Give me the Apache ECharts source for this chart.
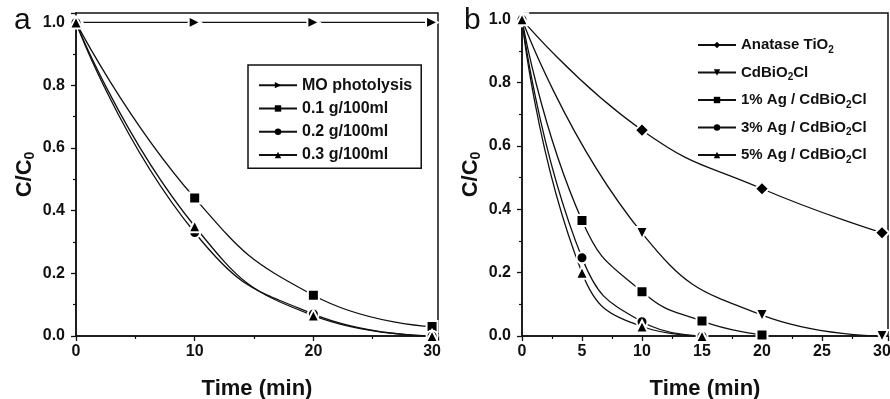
<!DOCTYPE html>
<html>
<head>
<meta charset="utf-8">
<script src="https://cdn.jsdelivr.net/npm/echarts@6/dist/echarts.min.js"></script>
<style>
  html, body { margin: 0; padding: 0; background: #fff; }
  #chart { width: 890px; height: 399px; }
</style>
</head>
<body>
<div id="chart"></div>
<script>
// panel a: catalyst dosage
const timesA = [0, 10, 20, 30];
const moPhotolysis = [1.0, 1.0, 1.0, 1.0];
const dose01 = [1.0, 0.44, 0.13, 0.03];
const dose02 = [1.0, 0.33, 0.07, 0.0];
const dose03 = [1.0, 0.35, 0.065, 0.0];

// panel b: catalysts
const timesAnatase = [0, 10, 20, 30];
const anatase = [1.0, 0.65, 0.465, 0.326];
const timesCdBiO2Cl = [0, 10, 20, 30];
const cdBiO2Cl = [1.0, 0.325, 0.066, 0.0];
const timesAg1 = [0, 5, 10, 15, 20];
const ag1 = [1.0, 0.365, 0.14, 0.047, 0.003];
const timesAg3 = [0, 5, 10, 15];
const ag3 = [1.0, 0.247, 0.045, 0.0];
const timesAg5 = [0, 5, 10, 15];
const ag5 = [1.0, 0.2, 0.03, 0.0];

const namesA = ['MO photolysis', '0.1 g/100ml', '0.2 g/100ml', '0.3 g/100ml'];
const namesB = ['Anatase TiO2', 'CdBiO2Cl', '1% Ag / CdBiO2Cl', '3% Ag / CdBiO2Cl', '5% Ag / CdBiO2Cl'];

const font = 'Liberation Sans, Arial, sans-serif';
const zip = (xs, ys) => xs.map((x, i) => [x, ys[i]]);

const chart = echarts.init(document.getElementById('chart'));

function line(name, idx, xs, ys, symbol, size, rotate) {
    return {
        name: name,
        type: 'line',
        xAxisIndex: idx,
        yAxisIndex: idx,
        data: zip(xs, ys),
        smooth: 0.5,
        symbol: symbol,
        symbolSize: size,
        symbolRotate: rotate || 0,
        showAllSymbol: true,
        lineStyle: { color: '#111', width: 1.3 },
        itemStyle: { color: '#000', borderColor: '#fff', borderWidth: 2 },
        emphasis: { disabled: true },
        animation: false
    };
}

function xAxis(idx, interval, step) {
    return {
        type: 'value', gridIndex: idx, min: 0, max: 30.5, interval: interval,
        name: 'Time (min)', nameLocation: 'middle', nameGap: 42,
        nameTextStyle: { fontFamily: font, fontWeight: 'bold', fontSize: 22, color: '#111' },
        axisLine: { lineStyle: { color: '#111', width: 1.5 } },
        axisTick: { inside: false, length: 5, lineStyle: { color: '#111', width: 1.3 } },
        minorTick: { show: true, splitNumber: 2, length: 3, lineStyle: { color: '#111', width: 1.2 } },
        axisLabel: {
            margin: 8, fontFamily: font, fontWeight: 'bold', fontSize: 16, color: '#111',
            formatter: v => (v % step === 0 ? String(v) : '')
        },
        splitLine: { show: false }
    };
}

function yAxis(idx, max) {
    return {
        type: 'value', gridIndex: idx, min: 0, max: max, interval: 0.2,
        name: '{m|C/C}{s|0}', nameLocation: 'middle', nameGap: 39, nameRotate: 90,
        nameTextStyle: {
            rich: {
                m: { fontFamily: font, fontWeight: 'bold', fontSize: 22, color: '#111', lineHeight: 24 },
                s: { fontFamily: font, fontWeight: 'bold', fontSize: 14, color: '#111', lineHeight: 14, verticalAlign: 'bottom' }
            }
        },
        axisLine: { lineStyle: { color: '#111', width: 1.5 } },
        axisTick: { inside: false, length: 5, lineStyle: { color: '#111', width: 1.3 } },
        minorTick: { show: true, splitNumber: 2, length: 3, lineStyle: { color: '#111', width: 1.2 } },
        axisLabel: {
            margin: 11, fontFamily: font, fontWeight: 'bold', fontSize: 16, color: '#111',
            formatter: v => (Math.abs(v * 5 - Math.round(v * 5)) < 1e-6 ? v.toFixed(1) : '')
        },
        splitLine: { show: false }
    };
}

const subRich = {
    t: { fontFamily: font, fontWeight: 'bold', fontSize: 15, color: '#111', lineHeight: 20 },
    s: { fontFamily: font, fontWeight: 'bold', fontSize: 10, color: '#111', lineHeight: 8, verticalAlign: 'bottom' }
};
function subLabel(name) {
    return name.split('O2').map(p => '{t|' + p + '}').join('{t|O}{s|2}');
}

const gridBase = { show: true, borderColor: '#111', borderWidth: 1.5, backgroundColor: 'transparent', containLabel: false, outerBoundsMode: 'none' };

const option = {
    backgroundColor: '#fff',
    animation: false,
    grid: [
        Object.assign({ left: 76, top: 13, width: 362, height: 323 }, gridBase),
        Object.assign({ left: 522, top: 13, width: 366, height: 323 }, gridBase)
    ],
    xAxis: [xAxis(0, 10, 10), xAxis(1, 5, 5)],
    yAxis: [yAxis(0, 1.03), yAxis(1, 1.02)],
    legend: [
        {
            data: namesA, orient: 'vertical', left: 248, top: 65,
            padding: [10, 9, 3, 10], itemGap: 3, itemWidth: 38, itemHeight: 8,
            borderColor: '#111', borderWidth: 1.5,
            itemStyle: { borderWidth: 0 },
            textStyle: { fontFamily: font, fontWeight: 'bold', fontSize: 16, color: '#111', lineHeight: 20.3 },
            selectedMode: false
        },
        {
            data: namesB, orient: 'vertical', left: 697, top: 35,
            padding: 0, itemGap: 7.5, itemWidth: 38, itemHeight: 8,
            itemStyle: { borderWidth: 0 },
            formatter: subLabel,
            textStyle: { rich: subRich, lineHeight: 20 },
            selectedMode: false
        }
    ],
    graphic: [
        { type: 'text', left: 14, top: 6, style: { text: 'a', font: '30px ' + font, fill: '#111' } },
        { type: 'text', left: 464, top: 6, style: { text: 'b', font: '30px ' + font, fill: '#111' } }
    ],
    series: [
        line(namesA[0], 0, timesA, moPhotolysis, 'triangle', 12, -90),
        line(namesA[1], 0, timesA, dose01, 'rect', 11),
        line(namesA[2], 0, timesA, dose02, 'circle', 11),
        line(namesA[3], 0, timesA, dose03, 'triangle', 12),
        line(namesB[0], 1, timesAnatase, anatase, 'diamond', 14),
        line(namesB[1], 1, timesCdBiO2Cl, cdBiO2Cl, 'triangle', 12, 180),
        line(namesB[2], 1, timesAg1, ag1, 'rect', 11),
        line(namesB[3], 1, timesAg3, ag3, 'circle', 11),
        line(namesB[4], 1, timesAg5, ag5, 'triangle', 12)
    ]
};

chart.setOption(option);
</script>
</body>
</html>
